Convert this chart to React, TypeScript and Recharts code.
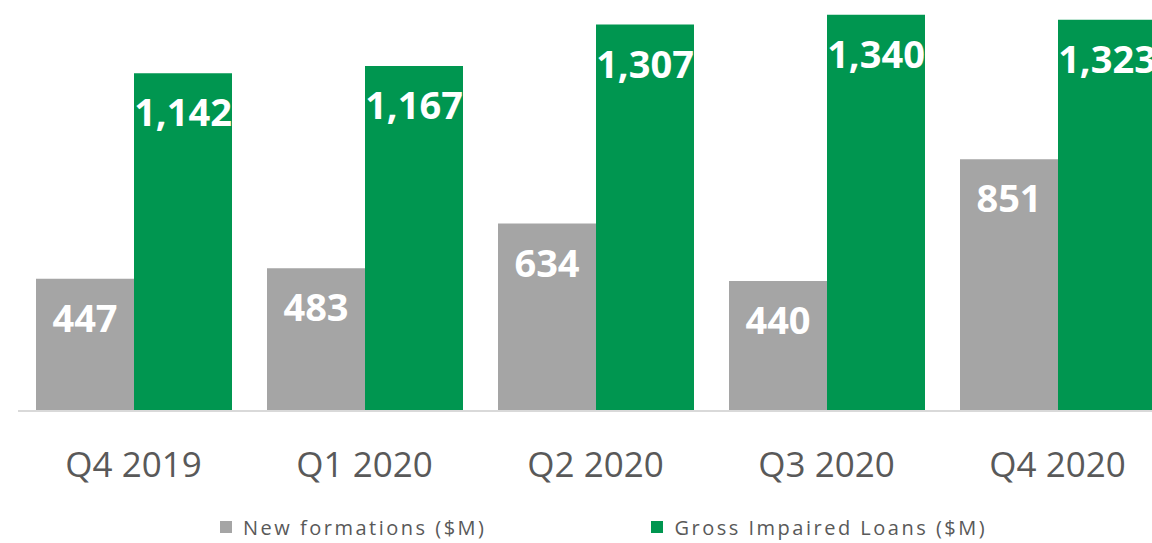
import React from "react";
import { BarChart, Bar, XAxis, YAxis, LabelList, Legend } from "recharts";

const quarters = ["Q4 2019", "Q1 2020", "Q2 2020", "Q3 2020", "Q4 2020"];
const newFormations = [447, 483, 634, 440, 851];
const grossImpaired = [1142, 1167, 1307, 1340, 1323];

const seriesNames = ["New formations ($M)", "Gross Impaired Loans ($M)"];
const GRAY = "#a5a5a5";
const GREEN = "#009650";
const FONT = "'Open Sans', 'Noto Sans', sans-serif";

const data = quarters.map((q, i) => ({
  quarter: q,
  formations: newFormations[i],
  impaired: grossImpaired[i],
}));

const fmt = (v: any) => Number(v).toLocaleString("en-US");

// legend drawn by hand so the spacing matches the original
const renderLegend = () => (
  <div
    style={{
      height: 50,
      display: "flex",
      alignItems: "center",
      paddingLeft: 220,
      paddingTop: 18,
      boxSizing: "border-box",
      fontFamily: FONT,
      fontSize: 20,
      letterSpacing: 2.5,
      color: "#595959",
    }}
  >
    {[GRAY, GREEN].map((c, i) => (
      <div
        key={i}
        style={{ display: "flex", alignItems: "center", marginRight: i === 0 ? 165 : 0 }}
      >
        <span style={{ width: 12, height: 12, background: c, marginRight: 11, display: "inline-block" }} />
        <span>{seriesNames[i]}</span>
      </div>
    ))}
  </div>
);

export default function App() {
  return (
    <div
      style={{
        position: "absolute",
        left: 0,
        top: 0,
        width: 1152,
        height: 543,
        overflow: "hidden",
        background: "#fff",
      }}
    >
      <BarChart
        width={1173}
        height={543}
        data={data}
        margin={{ top: 0, right: 0, left: 18, bottom: 0 }}
        barCategoryGap={18}
        barGap={0}
      >
        <XAxis
          dataKey="quarter"
          height={82}
          tickLine={false}
          axisLine={{ stroke: "#d9d9d9", strokeWidth: 2 }}
          tickMargin={35}
          tick={{ fill: "#595959", fontSize: 35, fontFamily: FONT }}
          interval={0}
        />
        <YAxis hide domain={[0, 1390]} />
        <Legend
          verticalAlign="bottom"
          content={renderLegend}
          wrapperStyle={{ left: 0, width: 1152 }}
        />
        <Bar dataKey="formations" fill={GRAY} isAnimationActive={false}>
          <LabelList
            dataKey="formations"
            position="insideTop"
            offset={26}
            formatter={fmt}
            style={{ fill: "#fff", fontSize: 38, fontWeight: 700, fontFamily: FONT }}
          />
        </Bar>
        <Bar dataKey="impaired" fill={GREEN} isAnimationActive={false}>
          <LabelList
            dataKey="impaired"
            position="insideTop"
            offset={26}
            formatter={fmt}
            style={{ fill: "#fff", fontSize: 38, fontWeight: 700, fontFamily: FONT }}
          />
        </Bar>
      </BarChart>
    </div>
  );
}
